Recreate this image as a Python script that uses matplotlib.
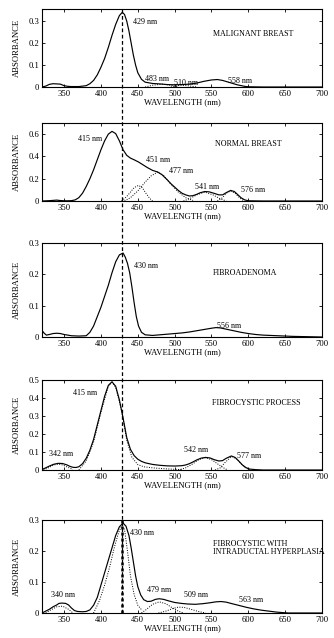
import math
import matplotlib
matplotlib.use('Agg')
import matplotlib.pyplot as plt
from matplotlib.lines import Line2D
from matplotlib.ticker import FuncFormatter

plt.rcParams['font.family'] = ['Liberation Serif', 'DejaVu Serif']

# ---- data (wavelength in nm, absorbance) ----
peak_marker = 429

# malignant breast
mal_wl = [320, 325, 330, 335, 340, 345, 350, 355, 360, 370, 380, 385, 390, 395, 400, 405, 410, 415, 420,
          425, 429, 432, 435, 438, 441, 444, 447, 450, 455, 460, 470, 480, 490, 500, 510, 520, 530, 540,
          550, 558, 565, 575, 585, 595, 600, 620, 650, 700]
mal_abs = [0.0, 0.004, 0.012, 0.015, 0.014, 0.013, 0.006, 0.003, 0.002, 0.002, 0.006, 0.015, 0.03, 0.055,
           0.09, 0.13, 0.18, 0.235, 0.285, 0.325, 0.340, 0.330, 0.300, 0.255, 0.200, 0.145, 0.100, 0.065,
           0.035, 0.022, 0.016, 0.014, 0.011, 0.010, 0.011, 0.013, 0.018, 0.026, 0.032, 0.034, 0.030,
           0.020, 0.010, 0.003, 0.001, 0.0, 0.0, 0.0]
mal483_wl = [460, 470, 483, 495, 505]
mal483_abs = [0.0, 0.008, 0.013, 0.008, 0.0]
mal510_wl = [495, 503, 510, 520, 530]
mal510_abs = [0.0, 0.006, 0.008, 0.005, 0.0]

# normal breast
nor_wl = [320, 330, 340, 345, 350, 355, 360, 365, 370, 375, 380, 385, 390, 395, 400, 405, 410, 415, 420,
          425, 430, 435, 440, 445, 451, 457, 463, 470, 477, 483, 490, 495, 500, 505, 510, 515, 520, 525,
          530, 535, 541, 547, 553, 560, 565, 570, 576, 581, 586, 590, 595, 600, 620, 650, 700]
nor_abs = [0.0, 0.003, 0.008, 0.004, 0.002, 0.002, 0.003, 0.01, 0.03, 0.07, 0.13, 0.2, 0.28, 0.37, 0.46,
           0.54, 0.60, 0.625, 0.605, 0.54, 0.46, 0.41, 0.385, 0.37, 0.35, 0.325, 0.30, 0.275, 0.26, 0.235,
           0.19, 0.155, 0.125, 0.095, 0.07, 0.055, 0.045, 0.048, 0.06, 0.075, 0.085, 0.082, 0.07, 0.055,
           0.055, 0.075, 0.095, 0.085, 0.055, 0.03, 0.01, 0.002, 0.0, 0.0, 0.0]
nor451_wl = [428, 435, 440, 445, 451, 456, 461, 466, 470]
nor451_abs = [0.0, 0.04, 0.08, 0.12, 0.14, 0.12, 0.07, 0.025, 0.0]
nor477_wl = [432, 440, 450, 460, 468, 477, 485, 495, 505, 515, 525]
nor477_abs = [0.0, 0.03, 0.09, 0.17, 0.225, 0.26, 0.23, 0.15, 0.08, 0.03, 0.005]
nor541_wl = [512, 520, 530, 541, 552, 562, 570]
nor541_abs = [0.0, 0.02, 0.055, 0.08, 0.055, 0.02, 0.0]
nor576_wl = [558, 565, 570, 576, 582, 588, 594]
nor576_abs = [0.0, 0.03, 0.07, 0.09, 0.07, 0.03, 0.0]

# fibroadenoma
fib_wl = [320, 321, 323, 326, 330, 335, 340, 345, 350, 360, 370, 380, 385, 390, 395, 400, 405, 410, 415,
          420, 425, 430, 433, 436, 439, 442, 445, 448, 451, 455, 460, 470, 480, 490, 500, 510, 520, 530,
          540, 550, 556, 562, 570, 580, 590, 600, 610, 620, 640, 660, 680, 700]
fib_abs = [0.005, 0.018, 0.012, 0.006, 0.008, 0.011, 0.012, 0.011, 0.008, 0.004, 0.003, 0.004, 0.015,
           0.035, 0.065, 0.095, 0.13, 0.165, 0.205, 0.24, 0.262, 0.268, 0.255, 0.235, 0.205, 0.16, 0.11,
           0.065, 0.035, 0.015, 0.007, 0.005, 0.007, 0.009, 0.011, 0.013, 0.016, 0.02, 0.024, 0.028, 0.030,
           0.029, 0.025, 0.02, 0.015, 0.011, 0.008, 0.006, 0.004, 0.002, 0.001, 0.0]

# fibrocystic process
fp_wl = [320, 325, 330, 336, 342, 348, 354, 358, 362, 366, 370, 375, 380, 385, 390, 395, 400, 405, 410,
         415, 420, 425, 430, 435, 440, 445, 450, 455, 460, 470, 480, 490, 500, 510, 515, 520, 525, 530,
         536, 542, 548, 554, 560, 565, 570, 577, 582, 587, 592, 597, 602, 610, 620, 650, 700]
fp_abs = [0.003, 0.012, 0.022, 0.032, 0.037, 0.036, 0.028, 0.02, 0.015, 0.014, 0.018, 0.035, 0.065, 0.11,
          0.17, 0.25, 0.33, 0.41, 0.47, 0.49, 0.465, 0.39, 0.29, 0.18, 0.115, 0.08, 0.06, 0.048, 0.04,
          0.031, 0.026, 0.023, 0.022, 0.024, 0.028, 0.035, 0.045, 0.056, 0.066, 0.07, 0.067, 0.057, 0.05,
          0.052, 0.065, 0.078, 0.07, 0.05, 0.028, 0.013, 0.005, 0.002, 0.0, 0.0, 0.0]
fp342_wl = [322, 330, 336, 342, 348, 355, 362]
fp342_abs = [0.0, 0.015, 0.028, 0.033, 0.028, 0.015, 0.003]
fp415_wl = [370, 380, 390, 400, 410, 415, 420, 428, 435, 442, 450, 458, 470, 490, 510]
fp415_abs = [0.0, 0.05, 0.155, 0.32, 0.465, 0.488, 0.46, 0.33, 0.165, 0.07, 0.03, 0.018, 0.012, 0.006, 0.002]
fp542_wl = [505, 515, 525, 533, 542, 550, 558, 565, 572]
fp542_abs = [0.0, 0.012, 0.035, 0.058, 0.068, 0.058, 0.035, 0.015, 0.0]
fp577_wl = [555, 562, 568, 577, 584, 590, 596, 602]
fp577_abs = [0.0, 0.012, 0.04, 0.075, 0.062, 0.035, 0.012, 0.0]

# fibrocystic with intraductal hyperplasia
fh_wl = [320, 325, 330, 335, 340, 343, 347, 352, 356, 360, 364, 368, 375, 380, 385, 390, 395, 400, 405,
         410, 415, 420, 425, 430, 434, 438, 441, 444, 447, 450, 454, 458, 463, 468, 474, 479, 485, 492,
         500, 509, 518, 528, 538, 548, 556, 563, 570, 578, 588, 598, 608, 618, 628, 638, 648, 655, 670, 700]
fh_abs = [0.0, 0.006, 0.012, 0.02, 0.026, 0.031, 0.032, 0.031, 0.026, 0.016, 0.008, 0.005, 0.004, 0.005,
          0.01, 0.025, 0.05, 0.09, 0.13, 0.17, 0.21, 0.25, 0.278, 0.29, 0.28, 0.25, 0.21, 0.165, 0.12,
          0.085, 0.058, 0.043, 0.037, 0.038, 0.044, 0.046, 0.044, 0.039, 0.034, 0.031, 0.029, 0.028, 0.03,
          0.033, 0.036, 0.037, 0.035, 0.03, 0.024, 0.018, 0.013, 0.009, 0.006, 0.003, 0.001, 0.0, 0.0, 0.0]
fh340_wl = [325, 332, 340, 348, 356, 362]
fh340_abs = [0.0, 0.01, 0.02, 0.022, 0.012, 0.0]
fh430_wl = [390, 398, 405, 412, 418, 424, 428, 432, 436, 440, 445, 450, 456]
fh430_abs = [0.0, 0.04, 0.09, 0.15, 0.21, 0.26, 0.28, 0.27, 0.2, 0.12, 0.06, 0.025, 0.008]
fh479_wl = [455, 462, 470, 479, 488, 496, 505, 512]
fh479_abs = [0.0, 0.012, 0.028, 0.036, 0.03, 0.018, 0.006, 0.0]
fh509_wl = [478, 488, 497, 505, 513, 522, 532, 542]
fh509_abs = [0.0, 0.006, 0.014, 0.019, 0.018, 0.012, 0.005, 0.0]

wl_ticks = [350, 400, 450, 500, 550, 600, 650, 700]

# ---- layout ----
W, H = 334, 638
fig = plt.figure(figsize=(W / 100, H / 100), dpi=100)
left, right = 42, 322
boxes = [(9, 87), (123, 201), (243, 337), (380, 470), (520, 613)]   # top, bottom in px
ylims = [0.355, 0.7, 0.3, 0.5, 0.3]
ysteps = [0.1, 0.2, 0.1, 0.1, 0.1]

FS = 6.2      # ticks / axis labels
AFS = 5.8     # annotations
axes = []
for (t, b), ymax, step in zip(boxes, ylims, ysteps):
    ax = fig.add_axes([left / W, 1 - b / H, (right - left) / W, (b - t) / H])
    ax.set_xlim(320, 700)
    ax.set_ylim(0, ymax)
    ax.set_xticks(wl_ticks)
    n = int(math.floor(ymax / step + 1e-6))
    ax.set_yticks([i * step for i in range(n + 1)])
    ax.yaxis.set_major_formatter(FuncFormatter(lambda v, p: '0' if abs(v) < 1e-9 else '%.1f' % v))
    ax.tick_params(direction='in', length=2.5, width=0.6, top=True, right=True,
                   labelsize=FS, pad=2)
    for s in ax.spines.values():
        s.set_linewidth(0.8)
    ax.set_xlabel('WAVELENGTH (nm)', fontsize=FS, va='center')
    ax.xaxis.set_label_coords(0.5, -15 / (b - t))
    ax.set_ylabel('ABSORBANCE', fontsize=FS, va='center')
    ax.yaxis.set_label_coords(-25 / (right - left), 0.5)
    axes.append(ax)

solid = dict(color='black', lw=0.85)
dots = dict(color='black', lw=0.7, ls=(0, (1, 1.5)))
txt = dict(fontsize=AFS, color='black')

# panel 1
ax = axes[0]
ax.plot(mal_wl, mal_abs, **solid)
ax.plot(mal483_wl, mal483_abs, **dots)
ax.plot(mal510_wl, mal510_abs, **dots)
ax.text(443, 0.297, '429 nm', va='center', **txt)
ax.text(460, 0.038, '483 nm', va='center', **txt)
ax.text(499, 0.019, '510 nm', va='center', **txt)
ax.text(573, 0.027, '558 nm', va='center', **txt)
ax.text(607, 0.24, 'MALIGNANT BREAST', ha='center', va='center', **txt)

# panel 2
ax = axes[1]
ax.plot(nor_wl, nor_abs, **solid)
for xs, ys in [(nor451_wl, nor451_abs), (nor477_wl, nor477_abs),
               (nor541_wl, nor541_abs), (nor576_wl, nor576_abs)]:
    ax.plot(xs, ys, **dots)
ax.text(402, 0.56, '415 nm', ha='right', va='center', **txt)
ax.text(461, 0.37, '451 nm', va='center', **txt)
ax.text(492, 0.27, '477 nm', va='center', **txt)
ax.text(528, 0.13, '541 nm', va='center', **txt)
ax.text(590, 0.10, '576 nm', va='center', **txt)
ax.text(600, 0.515, 'NORMAL BREAST', ha='center', va='center', **txt)

# panel 3
ax = axes[2]
ax.plot(fib_wl, fib_abs, **solid)
ax.text(445, 0.227, '430 nm', va='center', **txt)
ax.text(558, 0.036, '556 nm', va='center', **txt)
ax.text(595, 0.205, 'FIBROADENOMA', ha='center', va='center', **txt)

# panel 4
ax = axes[3]
ax.plot(fp_wl, fp_abs, **solid)
for xs, ys in [(fp342_wl, fp342_abs), (fp415_wl, fp415_abs),
               (fp542_wl, fp542_abs), (fp577_wl, fp577_abs)]:
    ax.plot(xs, ys, **dots)
ax.text(330, 0.09, '342 nm', va='center', **txt)
ax.text(395, 0.43, '415 nm', ha='right', va='center', **txt)
ax.text(513, 0.11, '542 nm', va='center', **txt)
ax.text(585, 0.076, '577 nm', va='center', **txt)
ax.text(611, 0.37, 'FIBROCYSTIC PROCESS', ha='center', va='center', **txt)

# panel 5
ax = axes[4]
ax.plot(fh_wl, fh_abs, **solid)
for xs, ys in [(fh340_wl, fh340_abs), (fh430_wl, fh430_abs),
               (fh479_wl, fh479_abs), (fh509_wl, fh509_abs)]:
    ax.plot(xs, ys, **dots)
ax.axvline(peak_marker, color='black', lw=1.8, ls=(0, (1.2, 1.2)))
ax.text(439, 0.257, '430 nm', va='center', **txt)
ax.text(332, 0.057, '340 nm', va='center', **txt)
ax.text(463, 0.073, '479 nm', va='center', **txt)
ax.text(513, 0.057, '509 nm', va='center', **txt)
ax.text(587, 0.043, '563 nm', va='center', **txt)
ax.text(552, 0.21, 'FIBROCYSTIC WITH\nINTRADUCTAL HYPERPLASIA', ha='left', va='center',
        linespacing=1.05, clip_on=False, **txt)

# dashed guide line through all panels at the malignant peak
x_disp = axes[0].transData.transform((peak_marker, 0))[0]
x_fig = x_disp / fig.bbox.width
y_top = 1 - boxes[0][0] / H
y_bot = 1 - boxes[-1][1] / H
fig.add_artist(Line2D([x_fig, x_fig], [y_bot, y_top], color='black', lw=0.9, ls=(0, (3, 2))))

fig.savefig('out.png', dpi=100)
